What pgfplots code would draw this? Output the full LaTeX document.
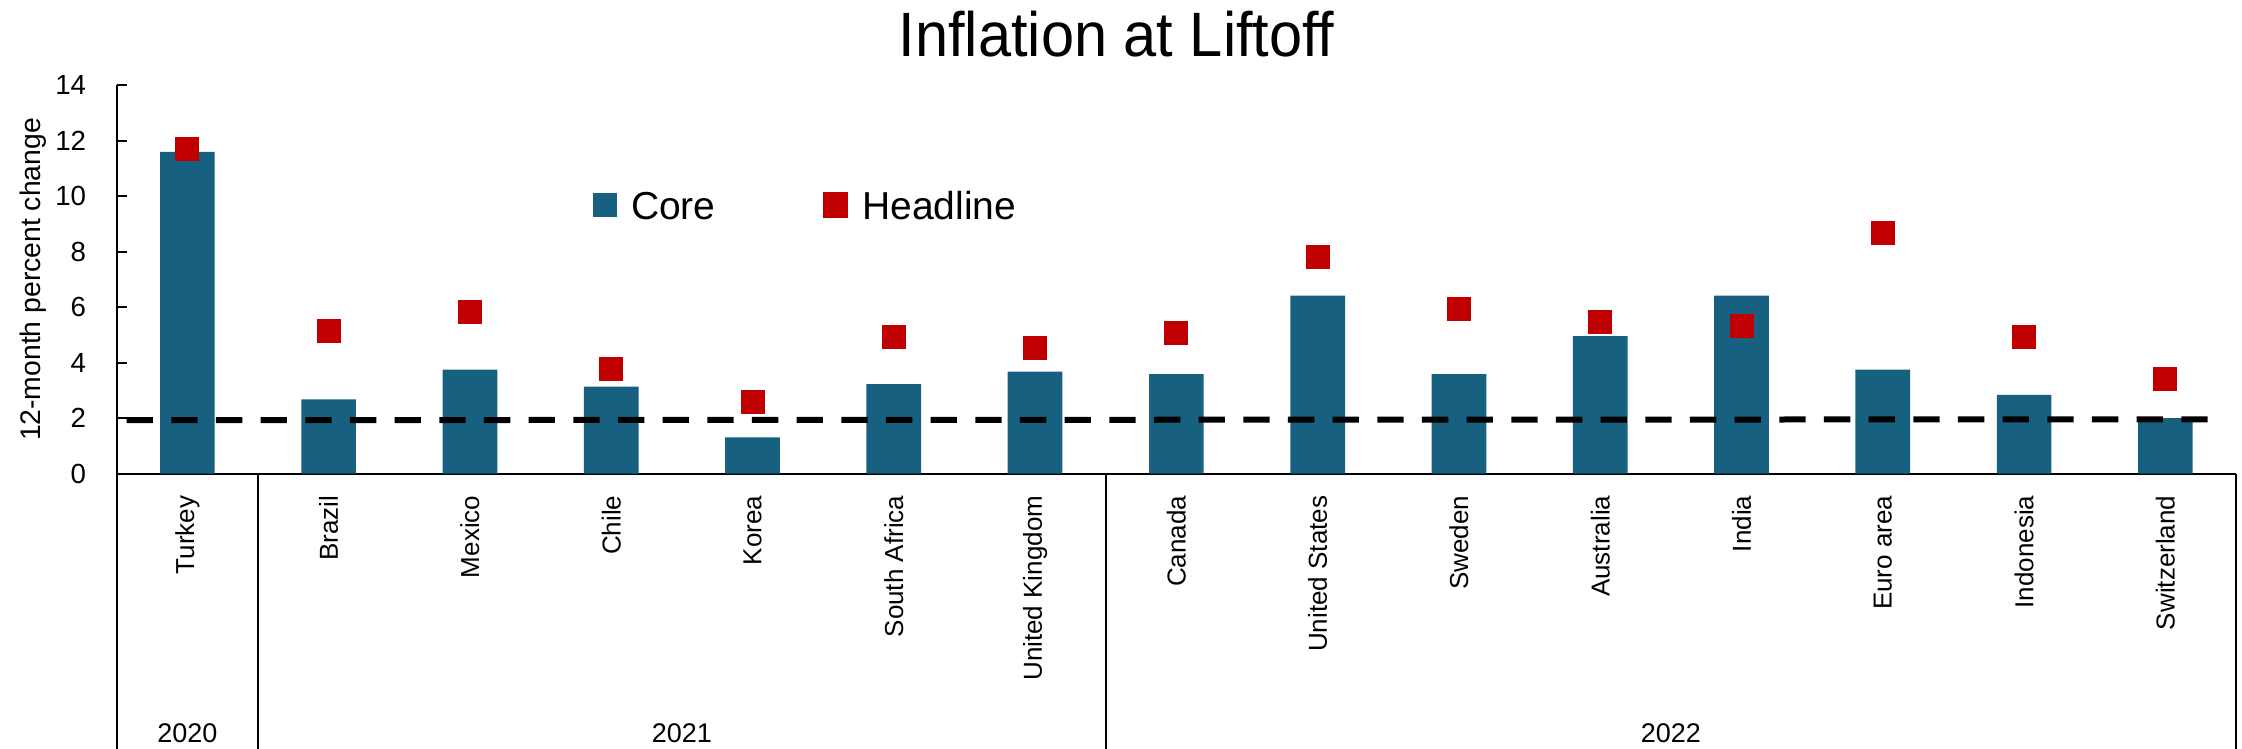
\documentclass[border=0pt]{standalone}
\usepackage{fontspec}
\setmainfont{Liberation Sans}
\usepackage{pgfplots}
\usepackage{pgfplotstable}
\pgfplotsset{compat=1.18}

\definecolor{coreblue}{RGB}{23,96,128}
\definecolor{hlred}{RGB}{192,0,0}

% 12-month inflation at the time of the first rate hike
\pgfplotstableread{
x  core   headline
0  11.60  11.71
1  2.68   5.14
2  3.75   5.83
3  3.14   3.77
4  1.31   2.58
5  3.23   4.93
6  3.68   4.53
7  3.59   5.07
8  6.42   7.81
9  3.59   5.94
10 4.96   5.47
11 6.42   5.32
12 3.75   8.68
13 2.84   4.93
14 2.00   3.41
}\liftoff

\begin{document}
\begin{tikzpicture}
\begin{axis}[
  at={(35.01pt,82.59pt)}, anchor=south west,
  scale only axis, width=635.8pt, height=116.5pt,
  xmin=-0.5, xmax=14.5, ymin=0, ymax=14,
  axis x line*=bottom, axis y line*=left,
  axis line style={line width=0.6pt, black},
  xtick={0,...,14},
  xticklabels={Turkey,Brazil,Mexico,Chile,Korea,South Africa,United Kingdom,Canada,United States,Sweden,Australia,India,Euro area,Indonesia,Switzerland},
  x tick style={draw=none},
  xticklabel style={rotate=90, anchor=east, inner sep=0pt, font=\fontsize{7.8pt}{9pt}\selectfont},
  xticklabel shift=6.4pt,
  ytick={0,2,...,14},
  y tick style={line width=0.6pt, black},
  major tick length=3pt,
  yticklabel style={anchor=east, inner sep=0pt, xshift=-9pt, font=\fontsize{8.3pt}{10pt}\selectfont},
  /pgf/number format/assume math mode=true,
  ylabel={12-month percent change},
  ylabel style={at={(axis description cs:-0.0395,0.5)}, anchor=center, inner sep=0pt, font=\fontsize{8.5pt}{10pt}\selectfont},
  title={\scalebox{0.95}[1]{Inflation at Liftoff}},
  every axis title/.style={at={(axis description cs:0.4718,1)}, anchor=base, yshift=8.6pt, inner sep=0pt, font=\fontsize{18.8pt}{22pt}\selectfont},
  clip=false,
  legend columns=2,
  legend style={at={(axis description cs:0.2246,0.684)}, anchor=west, draw=none, fill=none,
    inner sep=0pt, outer sep=0pt, font=\fontsize{11.7pt}{13pt}\selectfont,
    nodes={inner sep=0pt},
    /tikz/every odd column/.append style={column sep=4.3pt},
    /tikz/every even column/.append style={column sep=32.1pt}},
]
% core inflation bars
\addplot[ybar, bar width=0.387, fill=coreblue, draw=none,
  legend image code/.code={\fill[coreblue] (0pt,-0.5ex) rectangle ++(7.2pt,7.2pt);}]
  table[x=x, y=core]{\liftoff};
\addlegendentry{Core}
% headline inflation markers
\addplot[hlred, only marks, mark=square*, mark size=3.4pt,
  mark options={draw=hlred, fill=hlred, line width=0.4pt},
  legend image code/.code={\fill[hlred] (0pt,-0.5ex) rectangle ++(7.2pt,7.2pt);}]
  table[x=x, y=headline]{\liftoff};
\addlegendentry{Headline}
% 2 percent reference line
\addplot[black, line width=1.8pt, dash pattern=on 7.9pt off 5.5pt, forget plot]
  coordinates {(-0.43,1.93) (14.37,1.96)};

% category group separators and years
\draw[line width=0.6pt] (axis cs:-0.5,0) -- (axis cs:-0.5,-9.95);
\draw[line width=0.6pt] (axis cs:0.5,0) -- (axis cs:0.5,-9.95);
\draw[line width=0.6pt] (axis cs:6.5,0) -- (axis cs:6.5,-9.95);
\draw[line width=0.6pt] (axis cs:14.5,0) -- (axis cs:14.5,-9.95);
\node[font=\fontsize{8.1pt}{10pt}\selectfont] at (axis cs:0,-9.34) {2020};
\node[font=\fontsize{8.1pt}{10pt}\selectfont] at (axis cs:3.5,-9.34) {2021};
\node[font=\fontsize{8.1pt}{10pt}\selectfont] at (axis cs:10.5,-9.34) {2022};
\end{axis}
\pgfresetboundingbox
\useasboundingbox (0,0) rectangle (672.6pt,224.7pt);
\end{tikzpicture}
\end{document}
